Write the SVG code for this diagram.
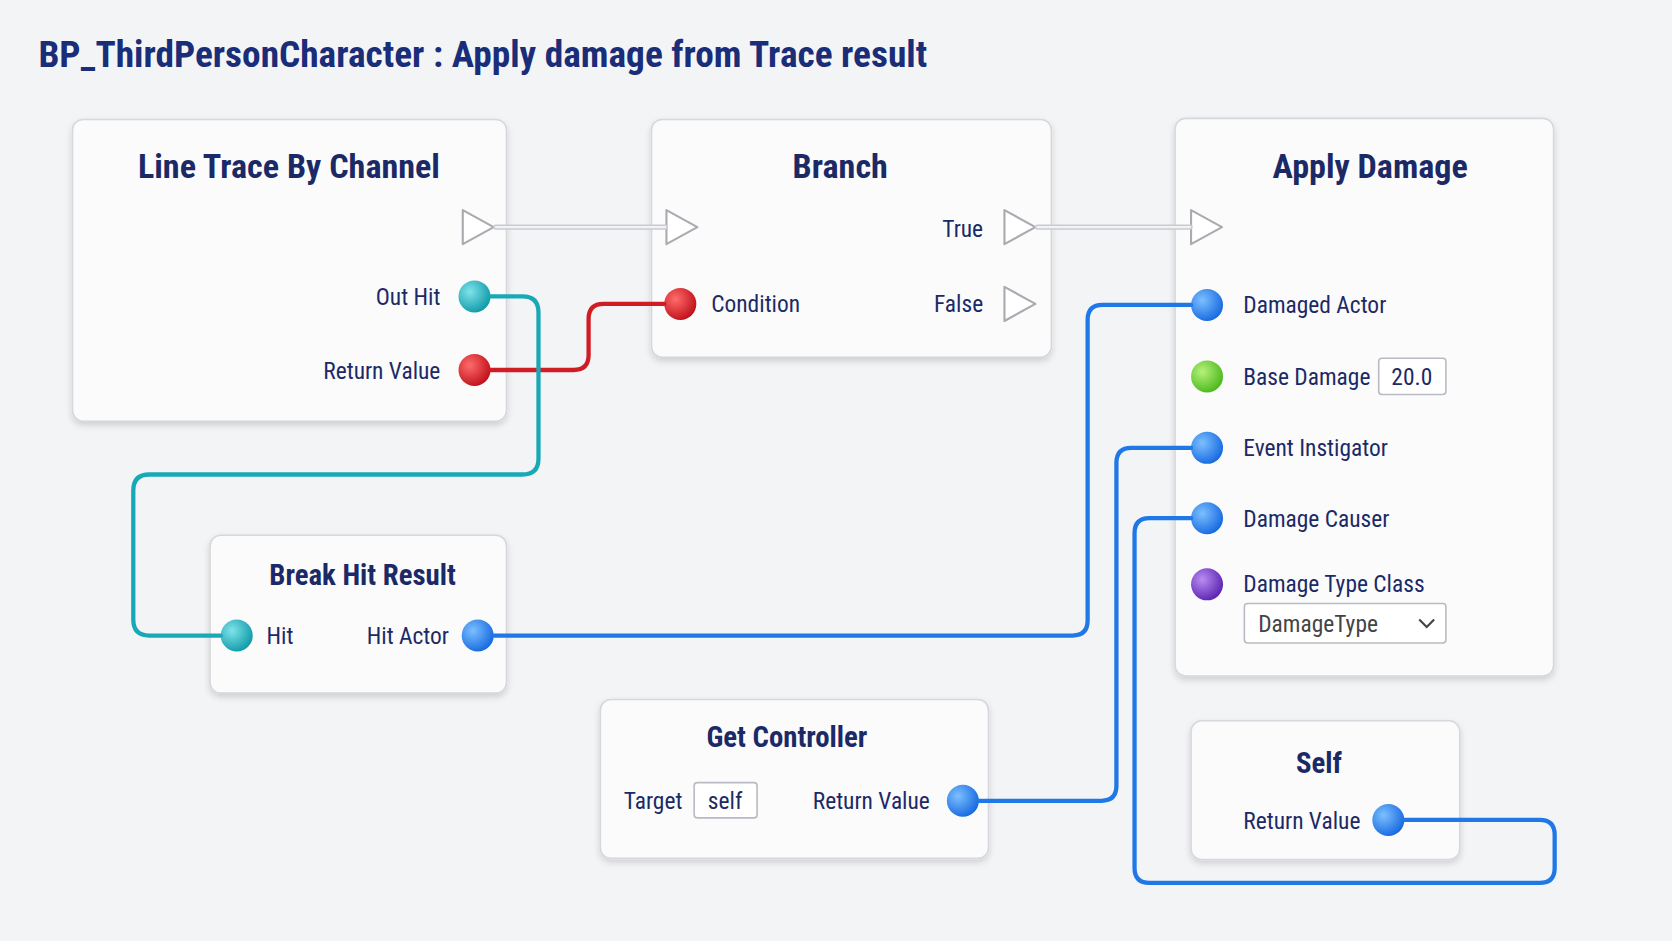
<svg xmlns="http://www.w3.org/2000/svg" width="1672" height="941" viewBox="0 0 1672 941">
<style>
text{font-family:"Liberation Sans Narrow","Roboto Condensed","Liberation Sans",sans-serif;fill:#1b2a66}
.t{font-size:32px;text-anchor:middle;font-weight:bold}
.st{font-size:27px;text-anchor:middle;font-weight:bold}
.l{font-size:22px}
.r{font-size:22px;text-anchor:end}
.node{fill:#fbfbfc;stroke:#d6d8dd;stroke-width:1.5;filter:url(#sh)}
.exec{fill:#fff;stroke:#a9abb0;stroke-width:2}
.wire{fill:none;stroke-width:4;stroke-linecap:round}
.box{fill:#fff;stroke:#b8bbc2;stroke-width:1.5}
</style>
<defs>
<filter id="sh" x="-10%" y="-10%" width="120%" height="130%"><feDropShadow dx="0" dy="3" stdDeviation="3" flood-color="#000" flood-opacity="0.15"/></filter>
<radialGradient id="gT" cx="0.35" cy="0.35" r="0.7"><stop offset="0" stop-color="#7fe3ea"/><stop offset="1" stop-color="#0f9aa8"/></radialGradient>
<radialGradient id="gR" cx="0.35" cy="0.35" r="0.7"><stop offset="0" stop-color="#ff6b6b"/><stop offset="1" stop-color="#c0101a"/></radialGradient>
<radialGradient id="gB" cx="0.35" cy="0.35" r="0.7"><stop offset="0" stop-color="#7cc0ff"/><stop offset="1" stop-color="#1668e0"/></radialGradient>
<radialGradient id="gG" cx="0.35" cy="0.35" r="0.7"><stop offset="0" stop-color="#b5f27a"/><stop offset="1" stop-color="#4cb81c"/></radialGradient>
<radialGradient id="gP" cx="0.35" cy="0.35" r="0.7"><stop offset="0" stop-color="#b98cf2"/><stop offset="1" stop-color="#5a24b0"/></radialGradient>
</defs>
<rect width="1672" height="941" fill="#f3f4f6"/>
<g transform="scale(1.0663)">
<text x="36" y="63" style="font-size:35px;font-weight:bold;fill:#1a2d78">BP_ThirdPersonCharacter : Apply damage from Trace result</text>

<g id="lineTrace">
<rect class="node" x="68" y="112" width="407" height="283" rx="10"/>
<text class="t" x="271" y="167">Line Trace By Channel</text>
<path class="exec" d="M434 197L463 213L434 229Z" stroke-linejoin="round"/>
<text class="r" x="413" y="286">Out Hit</text><circle cx="445" cy="278" r="15" fill="url(#gT)"/>
<text class="r" x="413" y="355">Return Value</text><circle cx="445" cy="347" r="15" fill="url(#gR)"/>
</g>

<g id="branch">
<rect class="node" x="611" y="112" width="375" height="223" rx="10"/>
<text class="t" x="788" y="167">Branch</text>
<path class="exec" d="M625 197L654 213L625 229Z" stroke-linejoin="round"/>
<text class="r" x="922" y="222">True</text><path class="exec" d="M942 197L971 213L942 229Z" stroke-linejoin="round"/>
<circle cx="638" cy="285" r="15" fill="url(#gR)"/><text class="l" x="667" y="293">Condition</text>
<text class="r" x="922" y="293">False</text><path class="exec" d="M942 269L971 285L942 301Z" stroke-linejoin="round"/>
</g>

<g id="applyDamage">
<rect class="node" x="1102" y="111" width="355" height="523" rx="10"/>
<text class="t" x="1285" y="167">Apply Damage</text>
<path class="exec" d="M1117 197L1146 213L1117 229Z" stroke-linejoin="round"/>
<circle cx="1132" cy="286" r="15" fill="url(#gB)"/><text class="l" x="1166" y="294">Damaged Actor</text>
<circle cx="1132" cy="353" r="15" fill="url(#gG)"/><text class="l" x="1166" y="361">Base Damage</text>
<rect class="box" x="1293" y="336" width="63" height="34" rx="3"/><text class="l" x="1324" y="361" text-anchor="middle">20.0</text>
<circle cx="1132" cy="420" r="15" fill="url(#gB)"/><text class="l" x="1166" y="428">Event Instigator</text>
<circle cx="1132" cy="486" r="15" fill="url(#gB)"/><text class="l" x="1166" y="494">Damage Causer</text>
<circle cx="1132" cy="548" r="15" fill="url(#gP)"/><text class="l" x="1166" y="555">Damage Type Class</text>
<rect class="box" x="1167" y="566" width="189" height="37" rx="3"/><text class="l" x="1180" y="593" style="fill:#444">DamageType</text>
<path d="M1331 581L1338 588L1345 581" fill="none" stroke="#444" stroke-width="2"/>
</g>

<g id="breakHit">
<rect class="node" x="197" y="502" width="278" height="148" rx="10"/>
<text class="st" x="340" y="549">Break Hit Result</text>
<circle cx="222" cy="596" r="15" fill="url(#gT)"/><text class="l" x="250" y="604">Hit</text>
<text class="r" x="421" y="604">Hit Actor</text><circle cx="448" cy="596" r="15" fill="url(#gB)"/>
</g>

<g id="getController">
<rect class="node" x="563" y="656" width="364" height="149" rx="10"/>
<text class="st" x="738" y="701">Get Controller</text>
<text class="l" x="585" y="759">Target</text>
<rect class="box" x="651" y="734" width="59" height="33" rx="3"/><text class="l" x="680" y="759" text-anchor="middle">self</text>
<text class="r" x="872" y="759">Return Value</text><circle cx="903" cy="751" r="15" fill="url(#gB)"/>
</g>

<g id="self">
<rect class="node" x="1117" y="676" width="252" height="130" rx="10"/>
<text class="st" x="1237" y="725">Self</text>
<text class="l" x="1166" y="777">Return Value</text><circle cx="1302" cy="769" r="15" fill="url(#gB)"/>
</g>

<g id="connectors">
<g class="wire" stroke="#c9cbd0"><path d="M465 213H624" stroke-width="5"/><path d="M973 213H1116" stroke-width="5"/></g>
<g class="wire" stroke="#f2f3f5"><path d="M465 213H624" stroke-width="2"/><path d="M973 213H1116" stroke-width="2"/></g>
<path class="wire" stroke="#d01c24" d="M460 347H538Q552 347 552 333V299Q552 285 566 285H623"/>
<path class="wire" stroke="#19a9b6" d="M460 278H490Q505 278 505 293V430Q505 445 490 445H140Q125 445 125 460V581Q125 596 140 596H207"/>
<path class="wire" stroke="#1f78e6" d="M463 596H1006Q1020 596 1020 582V300Q1020 286 1034 286H1117"/>
<path class="wire" stroke="#1f78e6" d="M918 751H1033Q1047 751 1047 737V434Q1047 420 1061 420H1117"/>
<path class="wire" stroke="#1f78e6" d="M1317 769H1444Q1458 769 1458 783V814Q1458 828 1444 828H1078Q1064 828 1064 814V500Q1064 486 1078 486H1117"/>
</g>
</g>
</svg>
